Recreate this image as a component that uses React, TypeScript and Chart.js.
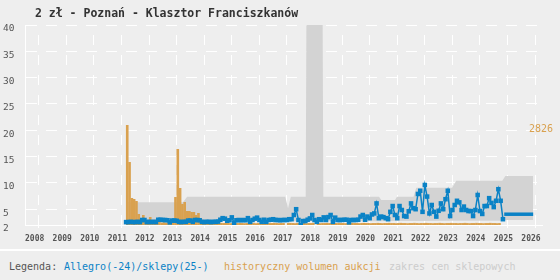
import React, { useEffect, useRef } from 'react';
import { Chart, registerables } from 'chart.js';

Chart.register(...registerables);

const FONT = '"DejaVu Sans Mono", monospace';
const BLUE = '#0a82c6';
const ORANGE = '#d9a14f';
const BAND = '#d3d3d3';
const BG = '#eeeeee';

const TITLE = '2 zł - Poznań - Klasztor Franciszkanów';
const LEGEND_LABEL = 'Legenda:';
const LEGEND_ALLEGRO = 'Allegro(-24)/sklepy(25-)';
const LEGEND_VOLUME = 'historyczny wolumen aukcji';
const LEGEND_SHOPS = 'zakres cen sklepowych';

const yearTicks = [2008, 2009, 2010, 2011, 2012, 2013, 2014, 2015, 2016, 2017, 2018, 2019, 2020, 2021, 2022, 2023, 2024, 2025, 2026];
const priceTicks = [2, 5, 10, 15, 20, 25, 30, 35, 40];
const volumeMaxLabel = 2826;

// Allegro prices, monthly, first month = Sep 2011
const allegroStart = 2011.667;
const allegroPrices = [
  2.55, 2.55, 2.6, 2.55, 2.55, 2.6, 2.55, 2.95, 2.95, 2.55,
  2.6, 2.55, 2.6, 2.55, 3.0, 3.0, 2.95, 2.95, 2.9, 2.5,
  2.85, 2.85, 2.8, 2.6, 2.55, 2.6, 2.6, 2.85, 2.85, 2.6,
  2.95, 2.95, 2.9, 2.6, 2.55, 2.6, 2.6, 2.55, 2.6, 2.6,
  2.65, 3.0, 3.3, 3.2, 2.8, 2.9, 3.45, 2.4, 2.9, 2.95,
  2.9, 2.95, 2.9, 3.3, 2.6, 2.95, 3.2, 3.4, 2.95, 2.6,
  3.0, 2.6, 2.95, 3.0, 3.1, 2.95, 2.95, 2.9, 2.95, 2.95,
  2.95, 3.1, 3.1, 3.9, 5.0, 2.95, 2.0, 2.75, 2.75, 3.0,
  3.25, 3.9, 2.95, 2.6, 3.1, 2.95, 3.45, 2.95, 3.5, 3.9,
  2.6, 3.4, 2.95, 2.95, 2.95, 3.0, 3.0, 2.5, 2.95, 2.95,
  2.95, 3.0, 3.6, 3.9, 3.0, 3.6, 3.3, 4.0, 4.2, 6.1,
  3.3, 3.6, 3.5, 3.3, 3.1, 4.5, 5.6, 3.9, 3.3, 5.6,
  4.85, 3.7, 3.6, 4.6, 6.1, 5.2, 5.0, 7.9, 8.5, 4.5,
  9.6, 7.4, 4.2, 5.8, 4.5, 3.6, 4.7, 6.1, 5.0, 6.9,
  8.5, 3.7, 4.85, 5.8, 6.6, 6.3, 4.85, 5.5, 4.85, 4.65,
  4.65, 3.7, 4.85, 7.7, 4.65, 4.1, 5.6, 5.6, 7.1, 6.2,
  5.4, 6.6, 8.8, 6.6, 3.1,
];

// shop prices (2025-)
const shopYears = [2025.38, 2026.43];
const shopPrices = [4.05, 4.05];

// historical auction volume, monthly
const volumeStart = 2011.708;
const volumes = [
  2826, 1780, 763, 735, 678, 311, 170, 283, 141, 141,
  226, 141, 85, 70, 90, 65, 80, 60, 95, 70,
  85, 791, 2148, 1046, 593, 650, 396, 396, 367, 367,
  283, 339, 198, 110, 90, 75, 80, 70, 65, 60,
  70, 60, 55, 60, 55, 50, 60, 55, 55, 60,
  55, 50, 55, 60, 55, 55, 50, 55, 60, 55,
  55, 50, 55, 55, 60, 55, 50, 55, 55, 0,
  55, 60, 55, 50, 55, 55, 60, 55, 50, 55,
  55, 60, 0, 55, 50, 55, 55, 60, 55, 55,
  50, 55, 60, 55, 55, 50, 55, 55, 60, 55,
  55, 50, 55, 60, 55, 55, 50, 55, 55, 60,
  55, 50, 55, 55, 60, 55, 55, 50, 55, 60,
  55, 55, 50, 55, 55, 60, 55, 50, 55, 55,
  60, 55, 55, 50, 55, 55, 60, 55, 50, 55,
  55, 60, 55, 55, 50, 55, 55, 60, 55, 50,
  55, 55, 60, 55, 55, 50, 55, 55, 60, 55,
  55, 50, 55,
];

// shop price range band
const bandYears = [2011.74, 2013.73, 2013.88, 2017.44, 2017.54, 2017.64, 2018.18, 2018.22, 2018.78, 2018.82, 2020.84, 2020.92, 2021.42, 2021.49, 2022.09, 2022.19, 2023.49, 2023.64, 2025.31, 2025.42, 2026.43];
const bandMax = [6.3, 6.3, 7.35, 7.35, 5.2, 7.35, 7.35, 60, 60, 7.35, 7.35, 6.75, 6.75, 7.35, 7.35, 9.1, 9.1, 10.4, 10.4, 11.3, 11.3];
const bandMin = [2.7, 2.7, 2.7, 2.7, 2.7, 2.7, 2.7, 2.7, 2.7, 2.7, 2.7, 2.7, 2.75, 2.75, 2.75, 2.75, 2.8, 2.8, 2.8, 2.95, 2.95];

const volumeLabelPlugin = {
  id: 'volumeLabel',
  afterDraw(chart: any) {
    const { ctx, chartArea, scales } = chart;
    const y = scales.y2.getPixelForValue(volumeMaxLabel);
    ctx.save();
    ctx.font = `10px ${FONT}`;
    ctx.fillStyle = ORANGE;
    ctx.textAlign = 'left';
    ctx.textBaseline = 'middle';
    ctx.fillText(String(volumeMaxLabel), chartArea.right - 13, y + 4);
    ctx.restore();
  },
};

export default function App() {
  const ref = useRef<HTMLCanvasElement | null>(null);

  useEffect(() => {
    if (!ref.current) return;
    const allegroData = allegroPrices.map((v, i) => ({ x: allegroStart + i / 12, y: v }));
    const shopData = shopYears.map((x, i) => ({ x, y: shopPrices[i] }));
    const volumeData = volumes.map((v, i) => ({ x: volumeStart + i / 12, y: v }));
    const maxData = bandYears.map((x, i) => ({ x, y: bandMax[i] }));
    const minData = bandYears.map((x, i) => ({ x, y: bandMin[i] }));

    const chart = new Chart(ref.current, {
      type: 'line',
      data: {
        datasets: [
          {
            type: 'line', data: allegroData, borderColor: BLUE, backgroundColor: BLUE,
            borderWidth: 1.5, pointStyle: 'rect', pointRadius: 3.2, pointBorderWidth: 0,
            pointBackgroundColor: BLUE, tension: 0, fill: false, order: 0, yAxisID: 'y',
          },
          {
            type: 'line', data: shopData, borderColor: BLUE, borderWidth: 3.5,
            pointRadius: 0, fill: false, order: 0, yAxisID: 'y',
          },
          {
            type: 'line', data: maxData, borderWidth: 0, pointRadius: 0,
            backgroundColor: BAND, borderColor: BAND, fill: '+1', order: 2, yAxisID: 'y',
          },
          {
            type: 'line', data: minData, borderWidth: 0, pointRadius: 0,
            backgroundColor: BAND, borderColor: BAND, fill: false, order: 2, yAxisID: 'y',
          },
          {
            type: 'bar', data: volumeData, backgroundColor: ORANGE, borderWidth: 0,
            barPercentage: 1.15, categoryPercentage: 1, order: 1, yAxisID: 'y2',
          } as any,
        ],
      },
      options: {
        animation: false,
        responsive: false,
        devicePixelRatio: 1,
        layout: { padding: { left: 3, top: 25, right: 18, bottom: 0 } },
        plugins: { legend: { display: false }, tooltip: { enabled: false }, title: { display: false } },
        scales: {
          x: {
            type: 'linear', min: 2008, max: 2026.75, offset: false,
            afterBuildTicks: (s: any) => { s.ticks = yearTicks.map((v) => ({ value: v })); },
            afterFit: (s: any) => { s.height = 24; },
            ticks: {
              align: 'start', autoSkip: false, maxRotation: 0, minRotation: 0, padding: 6,
              color: '#555', font: { family: FONT, size: 8, weight: 'bold' },
              callback: (v: any) => String(v),
            },
            grid: { color: '#ffffff', lineWidth: 1, drawTicks: true, tickLength: 3, tickColor: '#ffffff', tickBorderDash: [] },
            border: { display: true, color: '#ffffff', width: 1, dash: [10, 10], dashOffset: 10 },
          },
          y: {
            type: 'linear', min: 2, max: 40, position: 'left',
            afterBuildTicks: (s: any) => { s.ticks = priceTicks.map((v) => ({ value: v })); },
            afterFit: (s: any) => { s.width = 22; },
            ticks: {
              crossAlign: 'far', labelOffset: 4, padding: 0, autoSkip: false,
              color: '#555', font: { family: FONT, size: 9.5 },
              callback: (v: any) => String(v),
            },
            grid: { color: '#ffffff', lineWidth: 1, drawTicks: false },
            border: { display: true, color: '#ffffff', width: 1, dash: [11, 9], dashOffset: 0 },
          },
          y2: { type: 'linear', display: false, min: 0, max: 5652 },
        },
      } as any,
      plugins: [volumeLabelPlugin],
    });
    return () => chart.destroy();
  }, []);

  return (
    <div style={{ position: 'fixed', left: 0, top: 0, width: 560, height: 280, background: BG, overflow: 'hidden' }}>
      <canvas ref={ref} width={560} height={249} style={{ position: 'absolute', left: 0, top: 0, width: 560, height: 249 }} />
      <div style={{ position: 'absolute', left: 35, top: 6, fontFamily: FONT, fontWeight: 'bold', fontSize: 11.5, lineHeight: '14px', color: '#333', whiteSpace: 'pre' }}>
        {TITLE}
      </div>
      <div style={{ position: 'absolute', left: 0, top: 249, width: 560, height: 2, background: '#ffffff' }} />
      <div style={{ position: 'absolute', left: 0, top: 260, width: 560, height: 14, fontFamily: FONT, fontSize: 10, lineHeight: '14px', whiteSpace: 'pre' }}>
        <span style={{ position: 'absolute', left: 9, color: '#555' }}>{LEGEND_LABEL}</span>
        <span style={{ position: 'absolute', left: 64, color: BLUE }}>{LEGEND_ALLEGRO}</span>
        <span style={{ position: 'absolute', left: 224, color: ORANGE }}>{LEGEND_VOLUME}</span>
        <span style={{ position: 'absolute', left: 389, color: '#cccccc' }}>{LEGEND_SHOPS}</span>
      </div>
    </div>
  );
}
